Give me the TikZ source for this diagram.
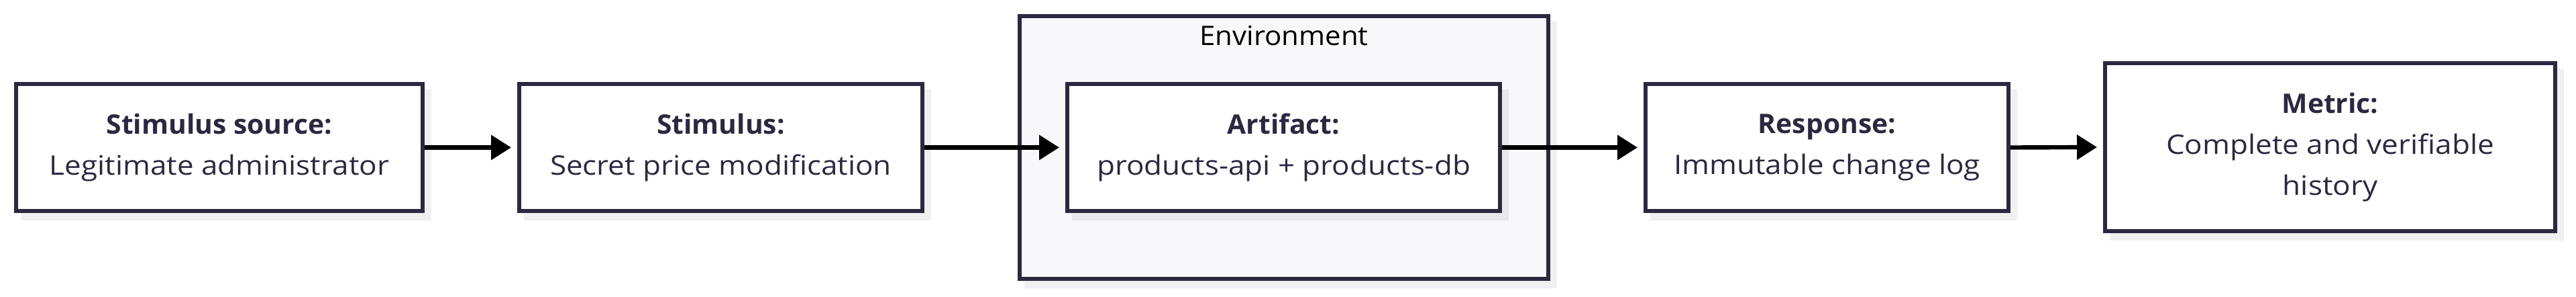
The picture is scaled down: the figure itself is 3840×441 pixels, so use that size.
\documentclass[tikz,border=0pt]{standalone}
\usepackage{fontspec}
\setmainfont{Open Sans}[FakeStretch=1.10]
\newfontfamily\headfont{Open Sans}[FakeStretch=1.02]
\newfontfamily\labelfont{Open Sans}[FakeStretch=1.05]
\newcommand\hd[1]{{\headfont\bfseries #1}}
\usetikzlibrary{arrows.meta}
\pgfdeclarelayer{shA}
\pgfdeclarelayer{envL}
\pgfdeclarelayer{shB}
\pgfsetlayers{shA,envL,shB,main}
\definecolor{ink}{HTML}{2A2940}
\definecolor{envfill}{HTML}{F8F8FA}
\tikzset{
  box/.style={draw=ink, line width=1.5pt, fill=white, text=ink, align=center,
    inner sep=0pt, minimum height=47.25pt, font=\fontsize{10}{15.25}\selectfont},
  flow/.style={draw=black, line width=1.6pt, -{Triangle[length=7.5pt,width=9pt]}, shorten >=2.25pt},
  shade/.style={fill=black, fill opacity=0.06},
}
\newcommand\shadowof[1]{\fill[shade] ([shift={(2.5pt,-2.75pt)}]#1.north west) rectangle ([shift={(2.5pt,-2.75pt)}]#1.south east);}
\begin{document}
\begin{tikzpicture}[x=0.25pt,y=-0.25pt]
\useasboundingbox (0,0) rectangle (3840,441);
\begin{pgfonlayer}{envL}
\node[box, fill=envfill, minimum width=197pt, minimum height=97.75pt] (env) at (1914,219.5) {};
\end{pgfonlayer}
\node[text=black, font=\labelfont\fontsize{10}{15.25}\selectfont, anchor=base, inner sep=0pt] (envlabel) at (1914,67) {Environment};
\node[box, minimum width=151.5pt] (src) at (327,219.5) {\hd{Stimulus source:}\\Legitimate administrator};
\node[box, minimum width=150.25pt] (stim) at (1074.5,219.5) {\hd{Stimulus:}\\Secret price modification};
\node[box, minimum width=161.25pt] (art) at (1913.5,219.5) {\hd{Artifact:}\\products-api + products-db};
\node[box, minimum width=135.25pt] (resp) at (2723.5,219.5) {\hd{Response:}\\Immutable change log};
\node[box, minimum width=167.75pt, minimum height=62.5pt] (met) at (3473.5,219) {\hd{Metric:}\\Complete and verifiable\\history};
\begin{pgfonlayer}{shA}
\shadowof{env}
\end{pgfonlayer}
\begin{pgfonlayer}{shB}
\shadowof{src}
\shadowof{stim}
\shadowof{art}
\shadowof{resp}
\shadowof{met}
\end{pgfonlayer}
\draw[flow] (src.east) -- (stim.west);
\draw[flow] (stim.east) -- (art.west);
\draw[flow] (art.east) -- (resp.west);
\draw[flow] (resp.east) -- (met.west);
\end{tikzpicture}
\end{document}
